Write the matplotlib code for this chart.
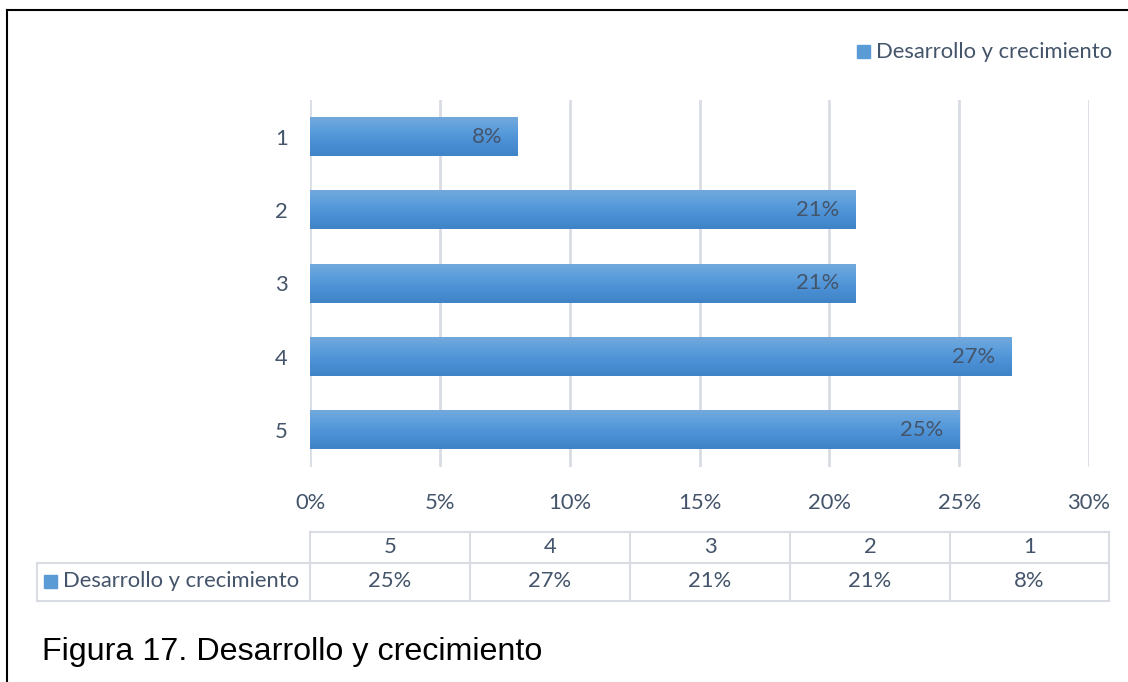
import matplotlib
matplotlib.use('Agg')
import matplotlib.pyplot as plt
from matplotlib.colors import LinearSegmentedColormap
from matplotlib.lines import Line2D
import numpy as np

categories = ['1', '2', '3', '4', '5']
values = [8, 21, 21, 27, 25]
series_name = 'Desarrollo y crecimiento'
xticks = [0, 5, 10, 15, 20, 25, 30]
caption = 'Figura 17. Desarrollo y crecimiento'

W, H = 1128, 682
TEXT = '#44546a'
GRID = '#d9dde3'
FONT = 'Lato'
FS = 15.8

bar_cmap = LinearSegmentedColormap.from_list(
    'bar', ['#72a9dd', '#5b9ddc', '#4a8fd4', '#3f84c6'])


def fx(px):
    return px / W


def fy(py):
    return 1 - py / H


fig = plt.figure(figsize=(W / 100, H / 100), dpi=100)

# plot area
ax = fig.add_axes([fx(310), fy(467), fx(1089) - fx(310), fy(100) - fy(467)])
ypos = np.arange(len(categories))
bar_h = 0.52
grad = np.linspace(0, 1, 64).reshape(-1, 1)
for y, v in zip(ypos, values):
    ax.imshow(grad, cmap=bar_cmap, aspect='auto', zorder=2,
              extent=[0, v, y + bar_h / 2, y - bar_h / 2], interpolation='bilinear')
    ax.text(v - 0.6, y, f'{v}%', ha='right', va='center', color=TEXT,
            fontsize=FS, family=FONT, zorder=3)

ax.set_xlim(0, 30)
ax.set_ylim(len(categories) - 0.5, -0.5)
ax.set_xticks(xticks)
ax.set_xticklabels([f'{t}%' for t in xticks], color=TEXT, fontsize=FS, family=FONT)
ax.set_yticks(ypos)
ax.set_yticklabels(categories, color=TEXT, fontsize=FS, family=FONT)
ax.tick_params(length=0)
ax.tick_params(axis='y', pad=16)
ax.tick_params(axis='x', pad=19)
ax.grid(axis='x', color=GRID, lw=2)
ax.set_axisbelow(True)
for s in ax.spines.values():
    s.set_visible(False)

# legend at the top right
fig.patches.append(plt.Rectangle((fx(857), fy(58)), fx(13), fy(45) - fy(58),
                                 transform=fig.transFigure, color='#5b9bd5'))
fig.text(fx(876), fy(52), series_name, ha='left', va='center', color=TEXT,
         fontsize=FS, family=FONT)

# data table under the axis
col_x = [310, 470, 630, 790, 950, 1109]
lc = dict(color=GRID, lw=1.5, transform=fig.transFigure)
fig.add_artist(Line2D([fx(310), fx(1109)], [fy(532), fy(532)], **lc))
fig.add_artist(Line2D([fx(37), fx(1109)], [fy(563), fy(563)], **lc))
fig.add_artist(Line2D([fx(37), fx(1109)], [fy(601), fy(601)], **lc))
fig.add_artist(Line2D([fx(37), fx(37)], [fy(563), fy(601)], **lc))
for x in col_x:
    fig.add_artist(Line2D([fx(x), fx(x)], [fy(532), fy(601)], **lc))

rev_cats = categories[::-1]
rev_vals = values[::-1]
for i in range(len(rev_cats)):
    cx = (col_x[i] + col_x[i + 1]) / 2
    fig.text(fx(cx), fy(547), rev_cats[i], ha='center', va='center',
             color=TEXT, fontsize=FS, family=FONT)
    fig.text(fx(cx), fy(581), f'{rev_vals[i]}%', ha='center', va='center',
             color=TEXT, fontsize=FS, family=FONT)

fig.patches.append(plt.Rectangle((fx(44), fy(588)), fx(13), fy(575) - fy(588),
                                 transform=fig.transFigure, color='#5b9bd5'))
fig.text(fx(63), fy(581), series_name, ha='left', va='center', color=TEXT,
         fontsize=FS, family=FONT)

# caption
fig.text(fx(42), fy(652), caption, ha='left', va='center', color='black',
         fontsize=23.2, family='Liberation Sans')

# frame lines
fig.add_artist(Line2D([fx(6.5), fx(W)], [fy(10), fy(10)], color='black', lw=1.5,
                      transform=fig.transFigure))
fig.add_artist(Line2D([fx(6.5), fx(6.5)], [fy(10), 0], color='black', lw=1.5,
                      transform=fig.transFigure))

fig.savefig('out.png', dpi=100)
